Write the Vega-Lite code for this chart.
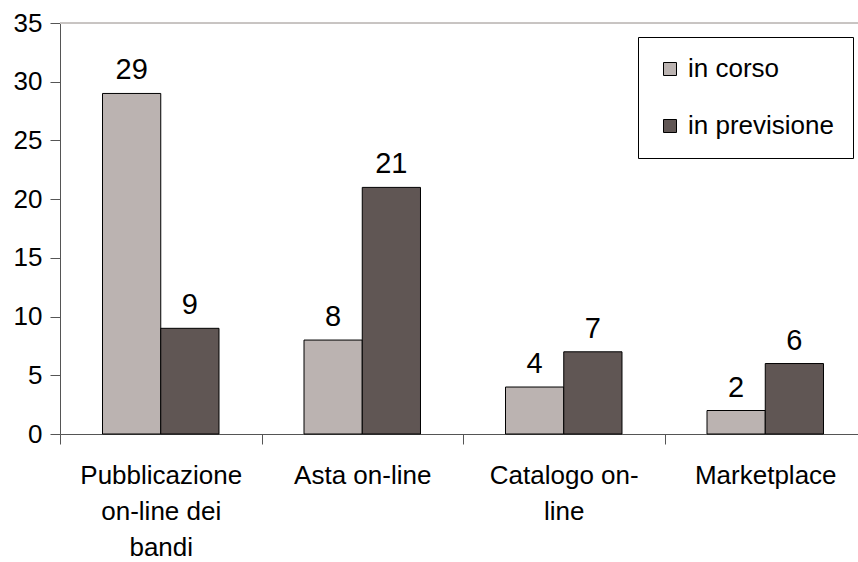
{
  "$schema": "https://vega.github.io/schema/vega-lite/v6.json",
  "width": 806,
  "height": 411,
  "autosize": {"type": "none"},
  "padding": {"left": 60, "top": 23, "right": 0, "bottom": 128},
  "background": "white",
  "config": {
    "view": {"stroke": null},
    "font": "Liberation Sans",
    "axis": {"labelFont": "Liberation Sans", "labelColor": "black", "domainColor": "#555", "tickColor": "#555"}
  },
  "data": {
    "values": [
      {"categoria": "Pubblicazione on-line dei bandi", "stato": "in corso", "valore": 29},
      {"categoria": "Pubblicazione on-line dei bandi", "stato": "in previsione", "valore": 9},
      {"categoria": "Asta on-line", "stato": "in corso", "valore": 8},
      {"categoria": "Asta on-line", "stato": "in previsione", "valore": 21},
      {"categoria": "Catalogo on-line", "stato": "in corso", "valore": 4},
      {"categoria": "Catalogo on-line", "stato": "in previsione", "valore": 7},
      {"categoria": "Marketplace", "stato": "in corso", "valore": 2},
      {"categoria": "Marketplace", "stato": "in previsione", "valore": 6}
    ]
  },
  "encoding": {
    "x": {
      "field": "categoria",
      "type": "nominal",
      "sort": null,
      "scale": {"paddingInner": 0, "paddingOuter": 0},
      "axis": {
        "title": null,
        "labelAngle": 0,
        "labelFontSize": 26,
        "labelLineHeight": 36,
        "labelPadding": 18,
        "labelBaseline": "top",
        "tickBand": "extent",
        "tickSize": 10,
        "labelExpr": "datum.value == 'Pubblicazione on-line dei bandi' ? ['Pubblicazione', 'on-line dei', 'bandi'] : datum.value == 'Catalogo on-line' ? ['Catalogo on-', 'line'] : datum.value"
      }
    },
    "xOffset": {"field": "stato", "type": "nominal", "scale": {"paddingOuter": 0.73, "paddingInner": 0}},
    "y": {
      "field": "valore",
      "type": "quantitative",
      "scale": {"domain": [0, 35]},
      "axis": {
        "title": null,
        "values": [0, 5, 10, 15, 20, 25, 30, 35],
        "grid": false,
        "labelFontSize": 26,
        "tickSize": 10,
        "labelPadding": 8
      }
    }
  },
  "layer": [
    {
      "mark": {"type": "rule", "color": "#c8c4c2", "strokeWidth": 1},
      "encoding": {"y": {"datum": 35}, "x": null, "xOffset": null}
    },
    {
      "mark": {"type": "bar", "stroke": "black", "strokeWidth": 1},
      "encoding": {
        "color": {
          "field": "stato",
          "type": "nominal",
          "scale": {"domain": ["in corso", "in previsione"], "range": ["#bbb3b1", "#605654"]},
          "legend": {
            "title": null,
            "orient": "none",
            "legendX": 578,
            "legendY": 14,
            "labelFontSize": 26,
            "labelFont": "Liberation Sans",
            "symbolType": "square",
            "symbolSize": 169,
            "symbolStrokeColor": "black",
            "symbolStrokeWidth": 1,
            "rowPadding": 31,
            "padding": 19,
            "strokeColor": "black",
            "fillColor": "white",
            "labelOffset": 5
          }
        }
      }
    },
    {
      "mark": {"type": "text", "baseline": "alphabetic", "dy": -14, "fontSize": 29, "font": "Liberation Sans", "color": "black"},
      "encoding": {"text": {"field": "valore", "type": "quantitative"}}
    }
  ]
}
